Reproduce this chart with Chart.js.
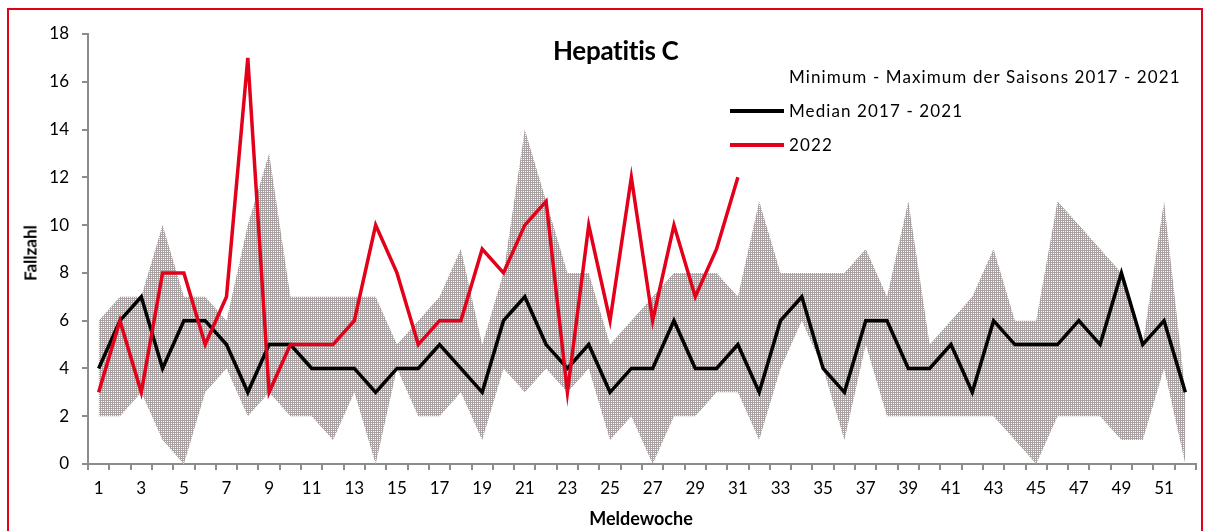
<!DOCTYPE html>
<html>
<head>
<meta charset="utf-8">
<script src="https://cdn.jsdelivr.net/npm/chart.js@4.4.1/dist/chart.umd.min.js"></script>
<style>
  html, body { margin: 0; padding: 0; background: #fff; }
  body { width: 1212px; height: 531px; overflow: hidden; position: relative; font-family: Lato, "Open Sans", sans-serif; }
  #frame { position: absolute; left: 7px; top: 8px; width: 1196px; height: 540px; border: 2px solid #e2001a; box-sizing: border-box; }
  #c { position: absolute; left: 0; top: 0; }
  .txt { position: absolute; color: #000; white-space: nowrap; }
  #title { left: 553px; top: 34px; font-size: 26px; font-weight: bold; letter-spacing: -0.3px; }
  #ytitle { left: 30px; top: 253px; font-size: 17px; font-weight: bold; transform: translate(-50%, -50%) rotate(-90deg); }
  #xtitle { left: 641px; top: 518px; font-size: 18px; font-weight: bold; transform: translate(-50%, -50%); }
  .leg { position: absolute; font-size: 17px; color: #000; white-space: nowrap; letter-spacing: 1.1px; }
  .sw { position: absolute; width: 54px; height: 4px; }
</style>
</head>
<body>
<div id="frame"></div>
<canvas id="c" width="1212" height="531"></canvas>
<div class="txt" id="title">Hepatitis C</div>
<div class="txt" id="ytitle">Fallzahl</div>
<div class="txt" id="xtitle">Meldewoche</div>
<div class="leg" id="l1" style="left:789px; top:66px;">Minimum - Maximum der Saisons 2017 - 2021</div>
<div class="sw" style="left:730px; top:109px; background:#000;"></div>
<div class="leg" id="l2" style="left:789px; top:100px;">Median 2017 - 2021</div>
<div class="sw" style="left:730px; top:143px; background:#e2001a;"></div>
<div class="leg" id="l3" style="left:789px; top:134px;">2022</div>
<script>
const weeks = ['1','2','3','4','5','6','7','8','9','10','11','12','13','14','15','16','17','18','19','20','21','22','23','24','25','26','27','28','29','30','31','32','33','34','35','36','37','38','39','40','41','42','43','44','45','46','47','48','49','50','51','52'];
const bandMin = [2,2,3,1,0,3,4,2,3,2,2,1,3,0,4,2,2,3,1,4,3,4,3,4,1,2,0,2,2,3,3,1,4,6,4,1,5,2,2,2,2,2,2,1,0,2,2,2,1,1,4,0];
const bandMax = [6,7,7,10,7,7,6,10,13,7,7,7,7,7,5,6,7,9,5,8,14,11,8,8,5,6,7,8,8,8,7,11,8,8,8,8,9,7,11,5,6,7,9,6,6,11,10,9,8,5,11,3];
const median = [4,6,7,4,6,6,5,3,5,5,4,4,4,3,4,4,5,4,3,6,7,5,4,5,3,4,4,6,4,4,5,3,6,7,4,3,6,6,4,4,5,3,6,5,5,5,6,5,8,5,6,3];
const y2022 = [3,6,3,8,8,5,7,17,3,5,5,5,6,10,8,5,6,6,9,8,10,11,3,10,6,12,6,10,7,9,12];
const yTicks = [0,2,4,6,8,10,12,14,16,18];

// hatch pattern for the min-max band
const pc = document.createElement('canvas');
pc.width = 2; pc.height = 2;
const pctx = pc.getContext('2d');
pctx.fillStyle = '#aaa2a2';
pctx.fillRect(0, 0, 2, 2);
pctx.fillStyle = '#ffffff';
pctx.fillRect(1, 1, 1, 1);
const ctx = document.getElementById('c').getContext('2d');
const hatch = ctx.createPattern(pc, 'repeat');

const FONT = { family: 'Lato, "Open Sans", sans-serif', size: 17 };

new Chart(ctx, {
  type: 'line',
  data: {
    labels: weeks,
    datasets: [
      { label: 'min', data: bandMin, borderWidth: 0, borderColor: 'rgba(0,0,0,0)', pointRadius: 0, fill: false, order: 3 },
      { label: 'Minimum - Maximum der Saisons 2017 - 2021', data: bandMax, borderWidth: 0, borderColor: 'rgba(0,0,0,0)', backgroundColor: hatch, pointRadius: 0, fill: '-1', order: 2 },
      { label: 'Median 2017 - 2021', data: median, borderColor: '#000000', borderWidth: 3.5, pointRadius: 0, fill: false, tension: 0, order: 1 },
      { label: '2022', data: y2022, borderColor: '#e2001a', borderWidth: 3.5, pointRadius: 0, fill: false, tension: 0, order: 0 }
    ]
  },
  options: {
    responsive: false,
    animation: false,
    devicePixelRatio: 1,
    layout: { padding: { top: 34, right: 16, left: 0, bottom: 0 } },
    plugins: { legend: { display: false }, tooltip: { enabled: false }, title: { display: false } },
    elements: { line: { borderJoinStyle: 'miter', borderCapStyle: 'butt' } },
    scales: {
      x: {
        type: 'category',
        offset: true,
        grid: { offset: true, drawOnChartArea: false, drawTicks: true, tickLength: 6, color: '#8c8c8c', lineWidth: 2 },
        border: { display: true, color: '#8c8c8c', width: 2 },
        ticks: {
          autoSkip: false, maxRotation: 0, minRotation: 0, padding: 8, color: '#000', font: FONT,
          callback: function (v, i) { return i % 2 === 0 ? weeks[i] : ''; }
        },
        afterFit: function (s) { s.height = 67; }
      },
      y: {
        min: 0, max: 18,
        afterBuildTicks: function (s) { s.ticks = yTicks.map(v => ({ value: v })); },
        grid: { drawOnChartArea: false, drawTicks: true, tickLength: 6, color: '#8c8c8c', lineWidth: 2 },
        border: { display: true, color: '#8c8c8c', width: 2 },
        ticks: { padding: 13, color: '#000', font: FONT },
        afterFit: function (s) { s.width = 88; }
      }
    }
  }
});
</script>
</body>
</html>
